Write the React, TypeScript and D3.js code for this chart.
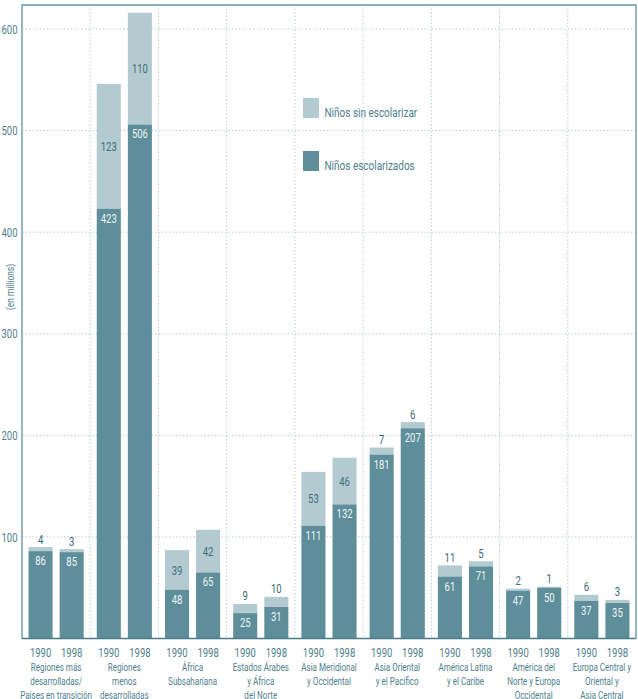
import React from "react";
import * as d3 from "d3";

const regionLines: string[][] = [
  ["Regiones más", "desarrolladas/", "Países en transición"],
  ["Regiones", "menos", "desarrolladas"],
  ["África", "Subsahariana"],
  ["Estados Árabes", "y África", "del Norte"],
  ["Asia Meridional", "y Occidental"],
  ["Asia Oriental", "y el Pacífico"],
  ["América Latina", "y el Caribe"],
  ["América del", "Norte y Europa", "Occidental"],
  ["Europa Central y", "Oriental y", "Asia Central"],
];
const years = ["1990", "1998"];
const enrolled1990 = [86, 423, 48, 25, 111, 181, 61, 47, 37];
const enrolled1998 = [85, 506, 65, 31, 132, 207, 71, 50, 35];
const outOfSchool1990 = [4, 123, 39, 9, 53, 7, 11, 2, 6];
const outOfSchool1998 = [3, 110, 42, 10, 46, 6, 5, 1, 3];
const yTicks = [100, 200, 300, 400, 500, 600];
const legendLabels = ["Niños sin escolarizar", "Niños escolarizados"];

const W = 638;
const H = 699;
const left = 22;
const right = 636;
const top = 5;
const bottom = 638.5;

const DARK = "#5d8e9a";
const LIGHT = "#b3cbd0";
const FRAME = "#8db0b8";
const GRID = "#b9cdd2";
const TEXT = "#4f808c";
const FONT = "Roboto, 'Noto Sans', sans-serif";
const SX = 0.73; // horizontal condensing for the narrow typeface

type CTextProps = {
  x: number;
  y: number;
  size: number;
  fill: string;
  anchor?: "start" | "middle" | "end";
  sx?: number;
  rotate?: number;
  children: React.ReactNode;
};

function CText({ x, y, size, fill, anchor = "middle", sx = SX, rotate = 0, children }: CTextProps) {
  return (
    <text
      transform={`translate(${x},${y}) rotate(${rotate}) scale(${sx},1)`}
      textAnchor={anchor}
      fontSize={size}
      fill={fill}
    >
      {children}
    </text>
  );
}

export default function App() {
  const ids = regionLines.map((_, i) => String(i));
  const x0 = d3.scaleBand<string>().domain(ids).range([left, right]).paddingInner(0).paddingOuter(0);
  const x1 = d3
    .scaleBand<string>()
    .domain(years)
    .range([0, x0.bandwidth()])
    .paddingInner(0.226)
    .paddingOuter(0.21);
  const y = d3.scaleLinear().domain([0, 600]).range([bottom, 29]);

  const rows = ids.flatMap((id, i) =>
    years.map((yr) => {
      const enr = yr === "1990" ? enrolled1990[i] : enrolled1998[i];
      const out = yr === "1990" ? outOfSchool1990[i] : outOfSchool1998[i];
      return { id, yr, enr, out };
    })
  );

  const bw = x1.bandwidth();

  return (
    <svg
      width={W}
      height={H}
      style={{ position: "absolute", left: 0, top: 0, background: "#fff" }}
      fontFamily={FONT}
    >
      {/* horizontal grid */}
      {yTicks.map((t) => (
        <line
          key={"h" + t}
          x1={left}
          x2={right}
          y1={y(t)}
          y2={y(t)}
          stroke={GRID}
          strokeWidth={1}
          strokeDasharray="1.5 2"
        />
      ))}
      {/* vertical group separators */}
      {ids.slice(1).map((id) => (
        <line
          key={"v" + id}
          x1={x0(id)!}
          x2={x0(id)!}
          y1={top}
          y2={bottom}
          stroke={GRID}
          strokeWidth={1}
          strokeDasharray="1.5 2"
        />
      ))}

      {/* stacked bars */}
      {rows.map((r) => {
        const bx = x0(r.id)! + x1(r.yr)!;
        const cx = bx + bw / 2;
        const yEnr = y(r.enr);
        const yTot = y(r.enr + r.out);
        const small = r.out < 20;
        return (
          <g key={r.id + r.yr}>
            <rect x={bx} y={yTot} width={bw} height={yEnr - yTot} fill={LIGHT} />
            <rect x={bx} y={yEnr} width={bw} height={bottom - yEnr} fill={DARK} />
            <CText x={cx} y={yEnr + 14} size={13} fill="#eef4f5">
              {r.enr}
            </CText>
            {small ? (
              <CText x={cx} y={yTot - 3.5} size={13} fill="#3a6a76">
                {r.out}
              </CText>
            ) : (
              <CText x={cx} y={(yTot + yEnr) / 2 + 4.6} size={13} fill="#3f6f7b">
                {r.out}
              </CText>
            )}
            <CText x={cx} y={656.5} size={13} fill={TEXT}>
              {r.yr}
            </CText>
          </g>
        );
      })}

      {/* frame */}
      <path
        d={`M${left},${bottom}V${top}H${right}V${bottom}`}
        fill="none"
        stroke={FRAME}
        strokeWidth={1.8}
      />
      <line x1={left} x2={right} y1={bottom} y2={bottom} stroke="#4a7d89" strokeWidth={1.6} />

      {/* y tick labels */}
      {yTicks.map((t) => (
        <CText key={"t" + t} x={17.5} y={y(t) + 4.6} size={13} fill={TEXT} anchor="end">
          {t}
        </CText>
      ))}
      <CText x={14} y={287} size={10.5} fill={TEXT} rotate={-90} sx={0.8}>
        (en millions)
      </CText>

      {/* region labels */}
      {regionLines.map((lines, i) => {
        const cx = x0(String(i))! + x0.bandwidth() / 2;
        return (
          <g key={"r" + i}>
            {lines.map((l, j) => (
              <CText key={j} x={cx} y={671 + j * 14} size={11.5} fill={TEXT} sx={0.7}>
                {l}
              </CText>
            ))}
          </g>
        );
      })}

      {/* legend */}
      {legendLabels.map((lab, i) => (
        <g key={lab}>
          <rect x={303} y={98 + i * 53} width={16} height={20} fill={i === 0 ? LIGHT : DARK} />
          <CText x={324.5} y={116.5 + i * 53} size={12.5} fill={TEXT} anchor="start" sx={0.8}>
            {lab}
          </CText>
        </g>
      ))}
    </svg>
  );
}
